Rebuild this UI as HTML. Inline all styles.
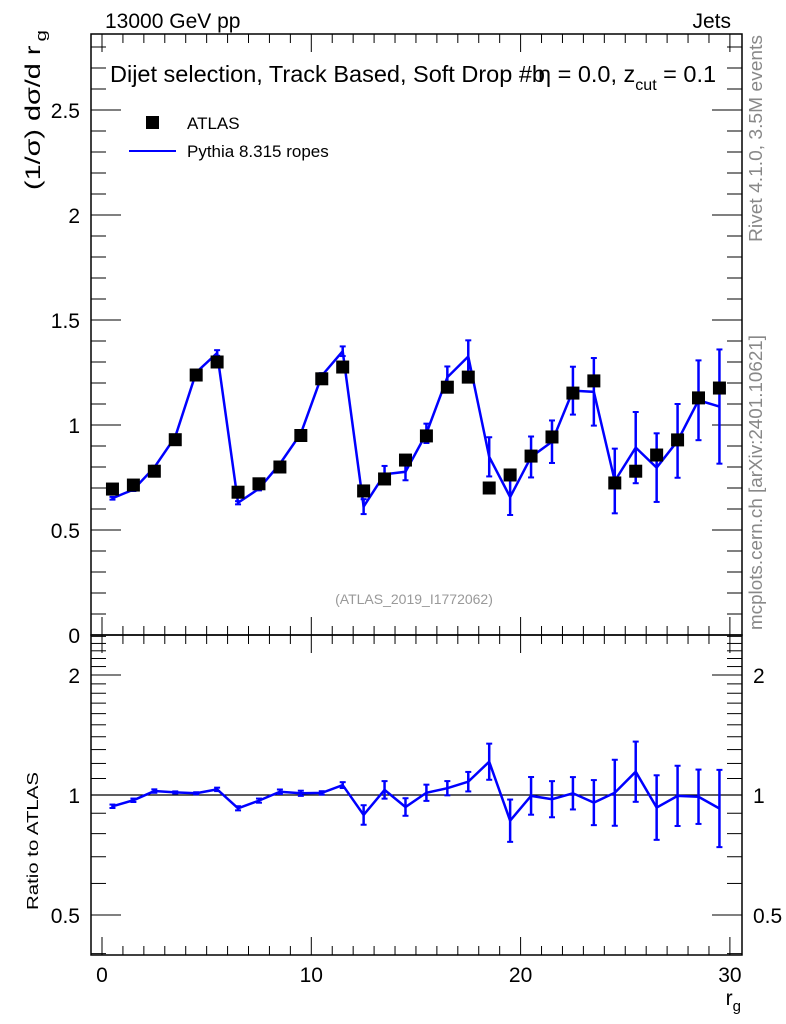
<!DOCTYPE html>
<html><head><meta charset="utf-8"><style>
html,body{margin:0;padding:0;background:#fff;}
svg{display:block;font-family:"Liberation Sans",sans-serif;}
</style></head><body>
<svg id="chart" width="786" height="1024" viewBox="0 0 786 1024" xmlns="http://www.w3.org/2000/svg">
<g id="axes"></g>
<g id="marks"></g>
<text x="105" y="28" font-size="21">13000 GeV pp</text>
<text x="731" y="28" font-size="21" text-anchor="end">Jets</text>
<text x="110" y="82" font-size="23.5">Dijet selection, Track Based, Soft Drop #b<tspan dx="-7">η = 0.0, z</tspan><tspan font-size="16" dy="8">cut</tspan><tspan dy="-8"> = 0.1</tspan></text>
<rect x="146" y="116" width="13" height="13" fill="#000"/>
<text x="187" y="129" font-size="17">ATLAS</text>
<line x1="129" y1="151" x2="176" y2="151" stroke="#0000ff" stroke-width="2"/>
<text x="187" y="157" font-size="17">Pythia 8.315 ropes</text>
<text transform="translate(40,190) rotate(-90)" font-size="21" textLength="160" lengthAdjust="spacingAndGlyphs">(1/σ) dσ/d r<tspan font-size="15" dy="6" dx="3">g</tspan></text>
<text transform="translate(38,910) rotate(-90)" font-size="16" textLength="138" lengthAdjust="spacingAndGlyphs">Ratio to ATLAS</text>
<text x="741" y="1005" font-size="21" text-anchor="end">r<tspan font-size="15" dy="6">g</tspan></text>
<text x="414" y="604" font-size="14" fill="#999" text-anchor="middle">(ATLAS_2019_I1772062)</text>
<text transform="translate(762,242) rotate(-90)" font-size="18" fill="#888" textLength="207" lengthAdjust="spacingAndGlyphs">Rivet 4.1.0,  3.5M events</text>
<text transform="translate(762,630) rotate(-90)" font-size="18" fill="#888" textLength="295" lengthAdjust="spacingAndGlyphs">mcplots.cern.ch [arXiv:2401.10621]</text>
</svg>
<script>
const xCenters=[0.5,1.5,2.5,3.5,4.5,5.5,6.5,7.5,8.5,9.5,10.5,11.5,12.5,13.5,14.5,15.5,16.5,17.5,18.5,19.5,20.5,21.5,22.5,23.5,24.5,25.5,26.5,27.5,28.5,29.5];
const atlasValues=[0.695,0.714,0.78,0.93,1.238,1.30,0.68,0.72,0.80,0.95,1.22,1.276,0.686,0.743,0.833,0.948,1.18,1.228,0.70,0.762,0.852,0.943,1.152,1.21,0.724,0.78,0.857,0.929,1.129,1.176];
const ratioValues=[0.937,0.97,1.023,1.015,1.01,1.033,0.926,0.968,1.019,1.01,1.012,1.059,0.891,1.03,0.933,1.013,1.04,1.08,1.212,0.862,0.995,0.976,1.01,0.957,1.013,1.144,0.93,0.995,0.99,0.925];
const relErrors=[0.01,0.01,0.01,0.006,0.006,0.01,0.012,0.012,0.013,0.015,0.01,0.017,0.058,0.052,0.052,0.048,0.042,0.058,0.11,0.13,0.115,0.11,0.098,0.139,0.21,0.19,0.205,0.19,0.17,0.25];
const mainTicks=["0","0.5","1","1.5","2","2.5"];
const ratioTicks=["0.5","1","2"];
const xTicks=["0","10","20","30"];

const NS="http://www.w3.org/2000/svg";
const L=91,R=742,T=34,MB=635,RB=955;
const X=v=>102+v*20.93;
const Y=v=>635-v*210;
const YR=v=>795-120*Math.log2(v);
const ax=document.getElementById('axes'), mk=document.getElementById('marks');
function el(t,a,p){const e=document.createElementNS(NS,t);for(const k in a)e.setAttribute(k,a[k]);p.appendChild(e);return e;}
function ln(x1,y1,x2,y2,p,c,w){return el('line',{x1:x1,y1:y1,x2:x2,y2:y2,stroke:c||'#000','stroke-width':w||1},p);}
function txt(s,x,y,anchor,p){const t=el('text',{x:x,y:y,'font-size':21,'text-anchor':anchor},p);t.textContent=s;return t;}

let f1=el('rect',{x:L,y:T,width:R-L,height:MB-T,fill:'none',stroke:'#000','stroke-width':1.5},ax);


let f2=el('rect',{x:L,y:MB,width:R-L,height:RB-MB,fill:'none',stroke:'#000','stroke-width':1.5},ax);



for(let i=0;i<=30;i++){const x=X(i);const maj=i%10===0;const len=maj?18:9;
 ln(x,T,x,T+len,ax);ln(x,MB,x,MB-len,ax);ln(x,MB,x,MB+len,ax);ln(x,RB,x,RB-len,ax);}
xTicks.forEach(s=>{const t=txt(s,X(+s),982,'middle',ax);
 
 });
for(let i=0;i<=28;i++){const v=i/10,y=Y(v);if(y<T)continue;const maj=i%5===0;const len=maj?30:15;
 ln(L,y,L+len,y,ax);ln(R,y,R-len,y,ax);}
mainTicks.forEach(s=>{const t=txt(s,80,Y(+s)+8,'end',ax);
 
 });
for(let i=4;i<=25;i++){const v=i/10,y=YR(v);if(y<MB||y>RB)continue;const maj=(i===5||i===10||i===20);const len=maj?30:15;
 ln(L,y,L+len,y,ax);ln(R,y,R-len,y,ax);}
ratioTicks.forEach(s=>{let t=txt(s,80,YR(+s)+8,'end',ax);
 
 
 t=txt(s,753,YR(+s)+8,'start',ax);
 
 });
let one=ln(L,YR(1),R,YR(1),ax,'#000',1.2);



const mc=atlasValues.map((a,i)=>a*ratioValues[i]);
let pm=el('polyline',{points:xCenters.map((x,i)=>X(x)+','+Y(mc[i])).join(' '),fill:'none',stroke:'#0000ff','stroke-width':2.5},mk);


let pr=el('polyline',{points:xCenters.map((x,i)=>X(x)+','+YR(ratioValues[i])).join(' '),fill:'none',stroke:'#0000ff','stroke-width':2.5},mk);


xCenters.forEach((x,i)=>{
 const px=X(x);
 const e=relErrors[i];
 const g=el('g',{},mk);
 
 
 const y1=Y(mc[i]*(1+e)),y2=Y(mc[i]*(1-e));
 ln(px,y1,px,y2,g,'#0000ff',2.5);ln(px-3,y1,px+3,y1,g,'#0000ff',2);ln(px-3,y2,px+3,y2,g,'#0000ff',2);
 const g2=el('g',{},mk);
 
 
 const r1=YR(ratioValues[i]*(1+e)),r2=YR(ratioValues[i]/(1+e));
 ln(px,r1,px,r2,g2,'#0000ff',2.5);ln(px-3,r1,px+3,r1,g2,'#0000ff',2);ln(px-3,r2,px+3,r2,g2,'#0000ff',2);
 const r=el('rect',{x:px-6.5,y:Y(atlasValues[i])-6.5,width:13,height:13,fill:'#000'},mk);
 
 
});
</script>
</body></html>
